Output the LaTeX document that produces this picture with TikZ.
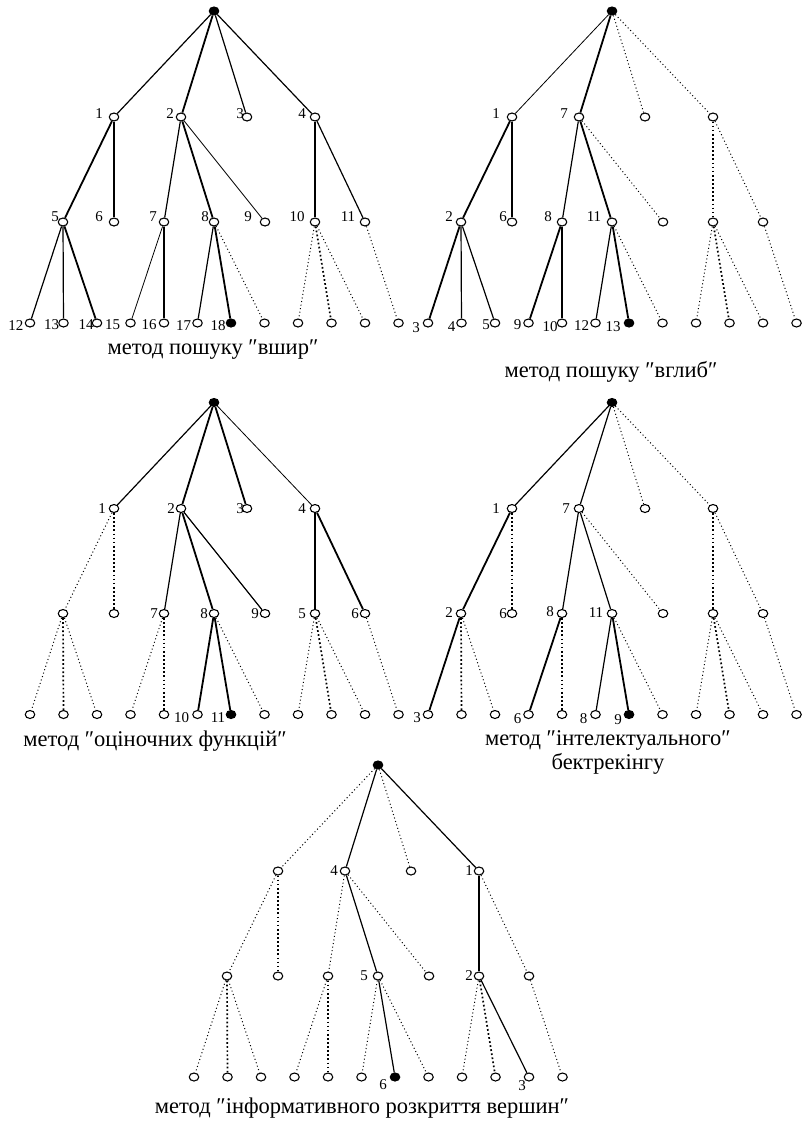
\documentclass[tikz,border=0pt]{standalone}
\usepackage{fontspec}
\setmainfont{Liberation Serif}
\usetikzlibrary{shapes.geometric}
\newcommand\mktree[3]{%
\begin{scope}[shift={(#2,#3)}]
\node[vtx,goal] (#1r) at (214,11) {};
\node[vtx] (#1a) at (114,117) {};
\node[vtx] (#1b) at (181,117) {};
\node[vtx] (#1c) at (247,117) {};
\node[vtx] (#1d) at (315,117) {};
\node[vtx] (#1a1) at (63,222) {};
\node[vtx] (#1a2) at (114,222) {};
\node[vtx] (#1b1) at (164,222) {};
\node[vtx] (#1b2) at (214,222) {};
\node[vtx] (#1b3) at (265,222) {};
\node[vtx] (#1d1) at (315,222) {};
\node[vtx] (#1d2) at (365,222) {};
\foreach \i/\xx in {0/30,1/63.5,2/97,3/130.5,4/164,5/197.5,7/264.5,8/298,9/331.5,10/365,11/398.5}
  \node[vtx] (#1l\i) at (\xx,323) {};
\node[vtx,goal] (#1l6) at (231,323) {};
\end{scope}}
\newcommand\lb[5]{\node[lbl] (#1) at ([shift={(#4,#5)}]#2.center) {#3};}
\newcommand\tedges[2]{%
\foreach \s/\u/\v in {#2}{\edef\tmp{\noexpand\draw[\s] (#1\u) -- (#1\v);}\tmp}}
\begin{document}
\begin{tikzpicture}[x=1pt,y=-1pt,
  vtx/.style={draw, ellipse, line width=1.1pt, minimum width=9.5pt, minimum height=8pt, inner sep=0pt, fill=white},
  goal/.style={fill=black},
  nrm/.style={line width=1.2pt},
  thk/.style={line width=1.8pt},
  thn/.style={line width=0.8pt},
  dot/.style={line width=1.0pt, dash pattern=on 1pt off 2.6pt},
  dotk/.style={line width=1.7pt, dash pattern=on 1.7pt off 2.4pt},
  lbl/.style={font=\fontsize{15}{15}\selectfont, inner sep=0pt},
  captext/.style={font=\fontsize{22.5}{24}\selectfont, inner sep=0pt, align=center}]
\useasboundingbox (0,0) rectangle (801,1125);
\fill[white] (0,0) rectangle (801,1125);

\mktree{A}{0}{0}
\mktree{B}{398}{0}
\mktree{C}{0}{391.5}
\mktree{D}{398}{391.5}
\mktree{E}{164}{754}

\tedges{A}{nrm/r/a, thk/r/b, nrm/r/c, nrm/r/d, thk/a/a1, thk/a/a2, nrm/b/b1, thk/b/b2, thn/b/b3, nrm/d/d1, nrm/d/d2, nrm/a1/l0, nrm/a1/l1, thk/a1/l2, thn/b1/l3, nrm/b1/l4, nrm/b2/l5, thk/b2/l6, dot/b2/l7, dot/d1/l8, dotk/d1/l9, dot/d1/l10, dot/d2/l11}
\tedges{B}{thn/r/a, thk/r/b, dot/r/c, dot/r/d, thk/a/a1, thk/a/a2, nrm/b/b1, thk/b/b2, dot/b/b3, dotk/d/d1, dot/d/d2, thk/a1/l0, nrm/a1/l1, nrm/a1/l2, thk/b1/l3, nrm/b1/l4, nrm/b2/l5, thk/b2/l6, dot/b2/l7, dot/d1/l8, dotk/d1/l9, dot/d1/l10, dot/d2/l11}
\tedges{C}{nrm/r/a, thk/r/b, thk/r/c, thn/r/d, dot/a/a1, dotk/a/a2, nrm/b/b1, thk/b/b2, nrm/b/b3, thk/d/d1, thk/d/d2, dot/a1/l0, dotk/a1/l1, dot/a1/l2, dot/b1/l3, dotk/b1/l4, thk/b2/l5, thk/b2/l6, dot/b2/l7, dot/d1/l8, dotk/d1/l9, dot/d1/l10, dot/d2/l11}
\tedges{D}{nrm/r/a, nrm/r/b, dot/r/c, dot/r/d, thk/a/a1, dotk/a/a2, nrm/b/b1, nrm/b/b2, dot/b/b3, dotk/d/d1, dot/d/d2, thk/a1/l0, dotk/a1/l1, dot/a1/l2, thk/b1/l3, dotk/b1/l4, nrm/b2/l5, thk/b2/l6, dot/b2/l7, dot/d1/l8, dotk/d1/l9, dot/d1/l10, dot/d2/l11}
\tedges{E}{dot/r/a, nrm/r/b, dot/r/c, nrm/r/d, dot/a/a1, dotk/a/a2, dot/b/b1, nrm/b/b2, dot/b/b3, thk/d/d1, dot/d/d2, dot/a1/l0, dotk/a1/l1, dot/a1/l2, dot/b1/l3, dotk/b1/l4, dot/b2/l5, nrm/b2/l6, dot/b2/l7, dot/d1/l8, dotk/d1/l9, nrm/d1/l10, dot/d2/l11}

% labels tree A
\lb{Aka}{Aa}{1}{-15}{-3}
\lb{Akb}{Ab}{2}{-11}{-3}
\lb{Akc}{Ac}{3}{-7}{-3}
\lb{Akd}{Ad}{4}{-13}{-3}
\lb{Aka1}{Aa1}{5}{-8}{-5}
\lb{Aka2}{Aa2}{6}{-15}{-5}
\lb{Akb1}{Ab1}{7}{-11}{-5}
\lb{Akb2}{Ab2}{8}{-9}{-5}
\lb{Akb3}{Ab3}{9}{-17}{-5}
\lb{Akd1}{Ad1}{10}{-18}{-5}
\lb{Akd2}{Ad2}{11}{-17}{-5}
\lb{Akl0}{Al0}{12}{-14}{3}
\lb{Akl1}{Al1}{13}{-12}{2}
\lb{Akl2}{Al2}{14}{-11}{2}
\lb{Akl3}{Al3}{15}{-18}{2}
\lb{Akl4}{Al4}{16}{-15}{2}
\lb{Akl5}{Al5}{17}{-14}{3}
\lb{Akl6}{Al6}{18}{-13}{3}
% labels tree B
\lb{Bka}{Ba}{1}{-16}{-3}
\lb{Bkb}{Bb}{7}{-15}{-3}
\lb{Bka1}{Ba1}{2}{-12}{-5}
\lb{Bka2}{Ba2}{6}{-9}{-5}
\lb{Bkb1}{Bb1}{8}{-14}{-5}
\lb{Bkb2}{Bb2}{11}{-18}{-5}
\lb{Bkl0}{Bl0}{3}{-12}{5}
\lb{Bkl1}{Bl1}{4}{-10}{4}
\lb{Bkl2}{Bl2}{5}{-9}{2}
\lb{Bkl3}{Bl3}{9}{-11}{2}
\lb{Bkl4}{Bl4}{10}{-12}{4}
\lb{Bkl5}{Bl5}{12}{-14}{3}
\lb{Bkl6}{Bl6}{13}{-16}{4}
% labels tree C
\lb{Cka}{Ca}{1}{-12}{0}
\lb{Ckb}{Cb}{2}{-10}{0}
\lb{Ckc}{Cc}{3}{-7}{0}
\lb{Ckd}{Cd}{4}{-13}{0}
\lb{Ckb1}{Cb1}{7}{-10}{0}
\lb{Ckb2}{Cb2}{8}{-10}{0}
\lb{Ckb3}{Cb3}{9}{-10}{0}
\lb{Ckd1}{Cd1}{5}{-13}{0}
\lb{Ckd2}{Cd2}{6}{-10}{0}
\lb{Ckl5}{Cl5}{10}{-16}{3}
\lb{Ckl6}{Cl6}{11}{-13}{3}
% labels tree D
\lb{Dka}{Da}{1}{-16}{0}
\lb{Dkb}{Db}{7}{-13}{0}
\lb{Dka1}{Da1}{2}{-12}{-1}
\lb{Dka2}{Da2}{6}{-9}{0}
\lb{Dkb1}{Db1}{8}{-12}{-2}
\lb{Dkb2}{Db2}{11}{-16}{-1}
\lb{Dkl0}{Dl0}{3}{-11}{3}
\lb{Dkl3}{Dl3}{6}{-11}{4}
\lb{Dkl5}{Dl5}{8}{-12}{4}
\lb{Dkl6}{Dl6}{9}{-11}{5}
% labels tree E
\lb{Ekb}{Eb}{4}{-11}{0}
\lb{Ekd}{Ed}{1}{-10}{0}
\lb{Ekb2}{Eb2}{5}{-14}{0}
\lb{Ekd1}{Ed1}{2}{-10}{0}
\lb{Ekl6}{El6}{6}{-12}{8}
\lb{Ekl10}{El10}{3}{-7}{9}

% captions
\node[captext] (c1) at (213,350) {метод пошуку ″вшир″};
\node[captext] (c2) at (611,372) {метод пошуку ″вглиб″};
\node[captext] (c3) at (155,741) {метод ″оціночних функцій″};
\node[captext] (c4) at (608,752) {метод ″інтелектуального″\\бектрекінгу};
\node[captext] (c5) at (362,1108) {метод ″інформативного розкриття вершин″};
\end{tikzpicture}
\end{document}
